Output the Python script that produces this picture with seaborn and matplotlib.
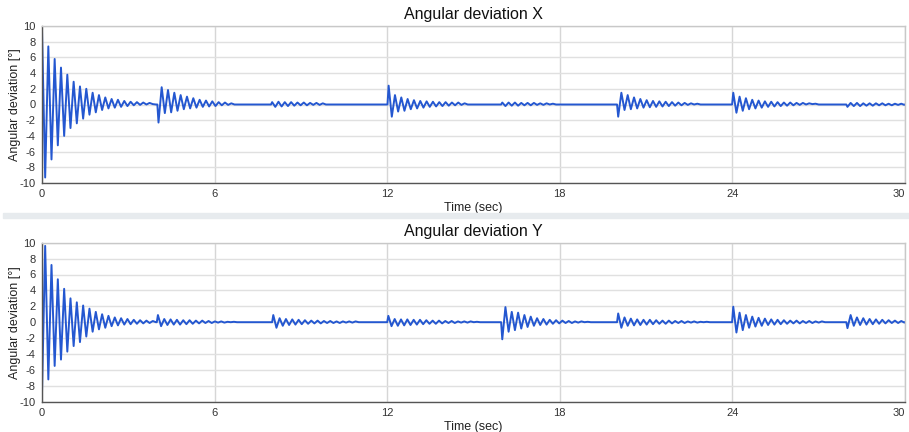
import matplotlib
matplotlib.use("Agg")
import matplotlib.pyplot as plt
import seaborn as sns
import pandas as pd
from matplotlib import font_manager

# ---------------- data ----------------
# Each burst: start time (s) and successive oscillation extrema (deg),
# extrema are spaced by one half oscillation period.
half_period = 0.11

x_starts = [0.0, 4.05, 8.0, 12.05, 16.0, 20.03, 24.03, 28.0]
x_burst_0 = [9.5, -9.3, 7.4, -7.0, 5.8, -5.2, 4.7, -4.0, 3.8, -3.0, 2.9, -2.4,
             2.3, -1.8, 2.0, -1.3, 1.5, -1.0, 1.2, -0.7, 0.9, -0.5, 0.7, -0.4,
             0.6, -0.3, 0.45, -0.2, 0.35, -0.1, 0.3, -0.05, 0.25, 0.0, 0.2, 0.05]
x_burst_1 = [-2.3, 2.2, -1.1, 1.85, -1.0, 1.5, -0.8, 1.2, -0.6, 1.0, -0.5, 0.8,
             -0.4, 0.6, -0.3, 0.5, -0.25, 0.4, -0.2, 0.3, -0.1, 0.25, -0.05, 0.15]
x_burst_2 = [0.3, -0.3, 0.35, -0.25, 0.3, -0.2, 0.3, -0.15, 0.25, -0.1, 0.25,
             -0.1, 0.2, -0.05, 0.2, -0.05, 0.15, 0.0]
x_burst_3 = [2.4, -1.55, 1.2, -0.9, 0.9, -0.8, 0.7, -0.6, 0.55, -0.5, 0.45, -0.4,
             0.4, -0.3, 0.35, -0.25, 0.3, -0.2, 0.3, -0.15, 0.25, -0.1, 0.25,
             -0.05, 0.15]
x_burst_4 = [0.25, -0.2, 0.25, -0.15, 0.25, -0.15, 0.2, -0.1, 0.2, -0.1, 0.2,
             -0.05, 0.15, -0.05, 0.15, 0.0, 0.1, 0.0]
x_burst_5 = [-1.55, 1.5, -0.7, 1.2, -0.6, 0.9, -0.5, 0.7, -0.4, 0.55, -0.35, 0.45,
             -0.3, 0.4, -0.25, 0.35, -0.2, 0.3, -0.15, 0.25, -0.1, 0.2, -0.05,
             0.15, 0.0, 0.1]
x_burst_6 = [1.5, -1.05, 1.0, -0.8, 0.8, -0.6, 0.6, -0.5, 0.5, -0.4, 0.4, -0.3,
             0.35, -0.25, 0.3, -0.2, 0.25, -0.15, 0.25, -0.1, 0.2, -0.05, 0.2,
             0.0, 0.15, 0.05, 0.1]
x_burst_7 = [-0.3, 0.2, -0.2, 0.2, -0.2, 0.15, -0.15, 0.15, -0.15, 0.15, -0.1,
             0.15, -0.1, 0.1, -0.1, 0.1, -0.05, 0.1, -0.05]

y_starts = [0.0, 4.03, 8.04, 12.04, 16.0, 20.03, 24.03, 28.0]
y_burst_0 = [-8.9, 9.6, -7.2, 7.2, -5.5, 5.4, -4.7, 4.2, -3.7, 3.0, -3.0, 2.5,
             -2.5, 2.1, -1.8, 1.7, -1.2, 1.3, -0.9, 1.0, -0.7, 0.8, -0.5, 0.6,
             -0.4, 0.5, -0.3, 0.4, -0.25, 0.3, -0.2, 0.25, -0.15, 0.2, -0.1, 0.15]
y_burst_1 = [0.9, -0.5, 0.4, -0.35, 0.35, -0.3, 0.3, -0.3, 0.25, -0.25, 0.25,
             -0.2, 0.2, -0.15, 0.2, -0.1, 0.15, -0.1, 0.1, -0.05, 0.1, -0.05,
             0.05, 0.0, 0.05, 0.0]
y_burst_2 = [0.9, -0.7, 0.5, -0.45, 0.4, -0.35, 0.35, -0.3, 0.3, -0.25, 0.25,
             -0.2, 0.2, -0.15, 0.2, -0.15, 0.15, -0.1, 0.15, -0.1, 0.1, -0.1,
             0.1, -0.05, 0.1, -0.05, 0.1, 0.0]
y_burst_3 = [0.8, -0.5, 0.4, -0.45, 0.35, -0.4, 0.35, -0.35, 0.3, -0.3, 0.3,
             -0.25, 0.25, -0.2, 0.2, -0.2, 0.2, -0.15, 0.15, -0.1, 0.15, -0.1,
             0.1, -0.05, 0.1, -0.05, 0.1, 0.0, 0.05]
y_burst_4 = [-2.15, 1.9, -1.2, 1.3, -1.0, 1.2, -0.8, 0.9, -0.6, 0.7, -0.45, 0.5,
             -0.35, 0.4, -0.3, 0.3, -0.2, 0.25, -0.15, 0.2, -0.1, 0.15, -0.1,
             0.1, -0.05, 0.1, 0.0, 0.05, 0.0]
y_burst_5 = [1.1, -0.7, 0.6, -0.45, 0.45, -0.4, 0.35, -0.35, 0.3, -0.3, 0.3,
             -0.25, 0.25, -0.2, 0.2, -0.2, 0.2, -0.15, 0.15, -0.1, 0.15, -0.1,
             0.1, -0.05, 0.1, -0.05, 0.05, 0.0, 0.05]
y_burst_6 = [1.95, -1.3, 1.2, -1.0, 0.9, -0.7, 0.7, -0.55, 0.55, -0.45, 0.45,
             -0.35, 0.35, -0.3, 0.3, -0.25, 0.25, -0.2, 0.2, -0.15, 0.2, -0.15,
             0.15, -0.1, 0.15, -0.1, 0.1, -0.05, 0.1, 0.0]
y_burst_7 = [-0.75, 0.9, -0.45, 0.6, -0.35, 0.5, -0.3, 0.4, -0.25, 0.35, -0.2,
             0.3, -0.15, 0.25, -0.1, 0.2, -0.1, 0.15, -0.05]

x_bursts = [x_burst_0, x_burst_1, x_burst_2, x_burst_3, x_burst_4, x_burst_5,
            x_burst_6, x_burst_7]
y_bursts = [y_burst_0, y_burst_1, y_burst_2, y_burst_3, y_burst_4, y_burst_5,
            y_burst_6, y_burst_7]

titles = ["Angular deviation X", "Angular deviation Y"]
x_ticks = [0, 6, 12, 18, 24, 30]
y_ticks = [-10, -8, -6, -4, -2, 0, 2, 4, 6, 8, 10]
t_end = 30.0


def build_frame(starts, bursts):
    rows = []
    for t0, vals in zip(starts, bursts):
        if t0 > 0:
            rows.append((t0 - 0.04, 0.0))
        for k, v in enumerate(vals):
            rows.append((t0 + k * half_period, v))
        rows.append((t0 + len(vals) * half_period, 0.0))
    rows.append((t_end, 0.0))
    return pd.DataFrame(rows, columns=["time", "deg"])


df_x = build_frame(x_starts, x_bursts)
df_y = build_frame(y_starts, y_bursts)

# ---------------- plotting ----------------
sns.set_theme(style="white")
plt.rcParams["font.family"] = ["Liberation Sans", "DejaVu Sans"]

installed = {f.name for f in font_manager.fontManager.ttflist}
tick_family = ("Liberation Sans Narrow" if "Liberation Sans Narrow" in installed
               else "Liberation Sans")

W, H = 909, 432
fig = plt.figure(figsize=(W / 100, H / 100), dpi=100)
fig.patch.set_facecolor("white")

# separator band between the two charts
fig.patches.append(plt.Rectangle((3 / W, 1 - 218 / H), (W - 3) / W, 5 / H,
                                 transform=fig.transFigure,
                                 color="#e7ebee", zorder=0))

ax_top = fig.add_axes([42 / W, 1 - 183 / H, 863 / W, 157 / H])
ax_bot = fig.add_axes([42 / W, 1 - 401.7 / H, 863 / W, 159 / H])

line_color = "#2457d0"
for ax, df, title in [(ax_top, df_x, titles[0]), (ax_bot, df_y, titles[1])]:
    sns.lineplot(data=df, x="time", y="deg", ax=ax, color=line_color,
                 linewidth=1.4, estimator=None, sort=True)
    ax.set_xlim(0, 30)
    ax.set_ylim(-10, 10)
    ax.set_xticks(x_ticks)
    ax.set_yticks(y_ticks)
    xlabels = ax.set_xticklabels([str(v) for v in x_ticks], family=tick_family)
    xlabels[-1].set_horizontalalignment("right")
    xlabels[-1].set_x(xlabels[-1].get_position()[0])
    ax.set_yticklabels([str(v) for v in y_ticks], family=tick_family)
    ax.tick_params(axis="both", labelsize=8, colors="#333333",
                   length=3, width=0.8, direction="out", pad=1.5)
    ax.grid(True, axis="y", color="#e0e0e0", linewidth=1.0)
    ax.grid(True, axis="x", color="#d6d6d6", linewidth=1.0)
    ax.set_axisbelow(True)
    for side in ["left", "bottom"]:
        ax.spines[side].set_color("#555555")
        ax.spines[side].set_linewidth(1.0)
    for side in ["top", "right"]:
        ax.spines[side].set_color("#c8c8c8")
        ax.spines[side].set_linewidth(1.0)
    ax.set_title(title, fontsize=11.5, color="#111111", pad=5)
    ax.set_xlabel("Time (sec)", fontsize=9, color="#222222", labelpad=2)
    ax.set_ylabel("Angular deviation [°]", fontsize=9, color="#222222")
    ax.yaxis.set_label_coords(-21 / 863, 0.5)

fig.savefig("out.png", dpi=100)
